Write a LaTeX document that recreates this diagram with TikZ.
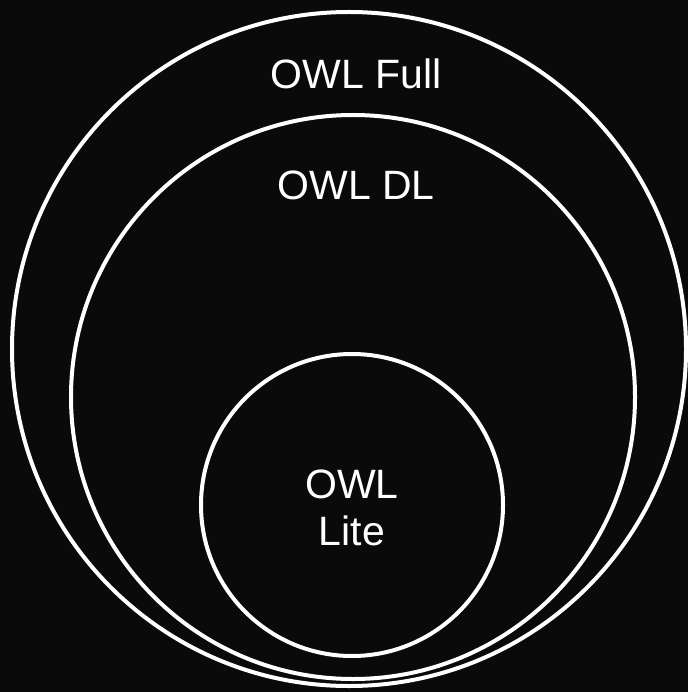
\documentclass[tikz,border=0pt]{standalone}
\usepackage{fontspec}
\setmainfont{Liberation Sans}
\begin{document}
\begin{tikzpicture}[x=1pt,y=-1pt,
  ring/.style={circle, draw=white, line width=4pt, inner sep=0pt},
  lbl/.style={text=white, font=\fontsize{41}{47}\selectfont, align=center, inner sep=0pt}]
\definecolor{bgc}{RGB}{10,10,10}
\fill[bgc] (0,0) rectangle (688,692);
\useasboundingbox (0,0) rectangle (688,692);
\node[ring, minimum size=674pt] (full) at (349,349) {};
\node[ring, minimum size=564pt] (dl) at (353,397) {};
\node[ring, minimum size=302pt] (lite) at (352,505) {};
\node[lbl, anchor=base] (tfull) at (356,89) {OWL Full};
\node[lbl, anchor=base] (tdl) at (356,200) {OWL DL};
\node[lbl, anchor=base] (tlite) at (352,545) {OWL\\Lite};
\end{tikzpicture}
\end{document}
